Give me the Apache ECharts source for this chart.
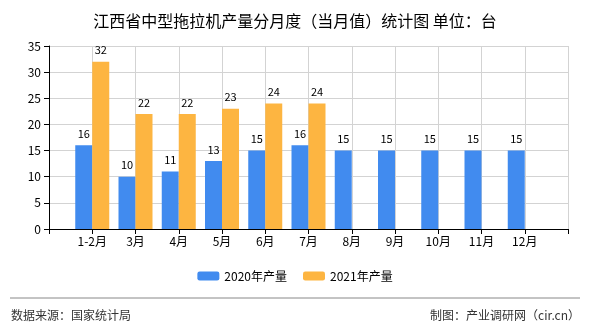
<!DOCTYPE html>
<html><head><meta charset="utf-8">
<script src="https://cdn.jsdelivr.net/npm/echarts@6/dist/echarts.min.js"></script>
<style>html,body{margin:0;padding:0;background:#fff}#c{width:590px;height:330px}</style>
</head><body><div id="c"></div>
<script>
var categories = ['1-2月','3月','4月','5月','6月','7月','8月','9月','10月','11月','12月'];
var series2020 = [16,10,11,13,15,16,15,15,15,15,15];
var series2021 = [32,22,22,23,24,24,null,null,null,null,null];
var yTicks = {min:0, max:35, interval:5};

var FONT = 'SimSun, "Noto Sans CJK SC", sans-serif';
var axisCats = [''].concat(categories).concat(['']);
function pad(a){ return [null].concat(a).concat([null]); }

var chart = echarts.init(document.getElementById('c'), null, {renderer:'canvas'});
chart.setOption({
  animation:false,
  backgroundColor:'#fff',
  title:{text:'江西省中型拖拉机产量分月度（当月值）统计图 单位：台', left:'center', top:8,
    textStyle:{fontSize:16, fontWeight:'normal', color:'#000', fontFamily:FONT}},
  legend:{bottom:43, left:'center', itemWidth:22, itemHeight:9, itemGap:16,
    textStyle:{fontSize:12, color:'#000', fontFamily:FONT},
    data:['2020年产量','2021年产量']},
  grid:{left:49, right:22, top:46, bottom:101, containLabel:false},
  xAxis:{type:'category', data:axisCats, boundaryGap:false,
    axisLine:{lineStyle:{color:'#000'}},
    axisTick:{show:true, interval:0, lineStyle:{color:'#000'}},
    axisLabel:{interval:0, color:'#000', fontSize:12, fontFamily:FONT, margin:6},
    splitLine:{show:true, interval:0, lineStyle:{color:'#d3d3d3'}}},
  yAxis:{type:'value', min:yTicks.min, max:yTicks.max, interval:yTicks.interval,
    axisLine:{show:true, lineStyle:{color:'#000'}},
    axisTick:{show:true, lineStyle:{color:'#000'}},
    axisLabel:{color:'#000', fontSize:12, fontFamily:FONT},
    splitLine:{lineStyle:{color:'#d3d3d3'}}},
  series:[
    {name:'2020年产量', type:'bar', data:pad(series2020), barWidth:17, barGap:'0%',
     itemStyle:{color:'#418BEF'},
     label:{show:true, position:'top', color:'#000', fontSize:11, fontFamily:FONT, distance:6}},
    {name:'2021年产量', type:'bar', data:pad(series2021), barWidth:17, barGap:'0%',
     itemStyle:{color:'#FDB541'},
     label:{show:true, position:'top', color:'#000', fontSize:11, fontFamily:FONT, distance:6}}
  ],
  graphic:[
    {type:'line', shape:{x1:10, y1:298, x2:580, y2:298}, style:{stroke:'#888', lineWidth:1}},
    {type:'text', left:11, top:309, style:{text:'数据来源：国家统计局', fill:'#333', font:'12px '+FONT}},
    {type:'text', right:10, top:309, style:{text:'制图：产业调研网（cir.cn）', fill:'#333', font:'12px '+FONT}}
  ]
});
</script></body></html>
